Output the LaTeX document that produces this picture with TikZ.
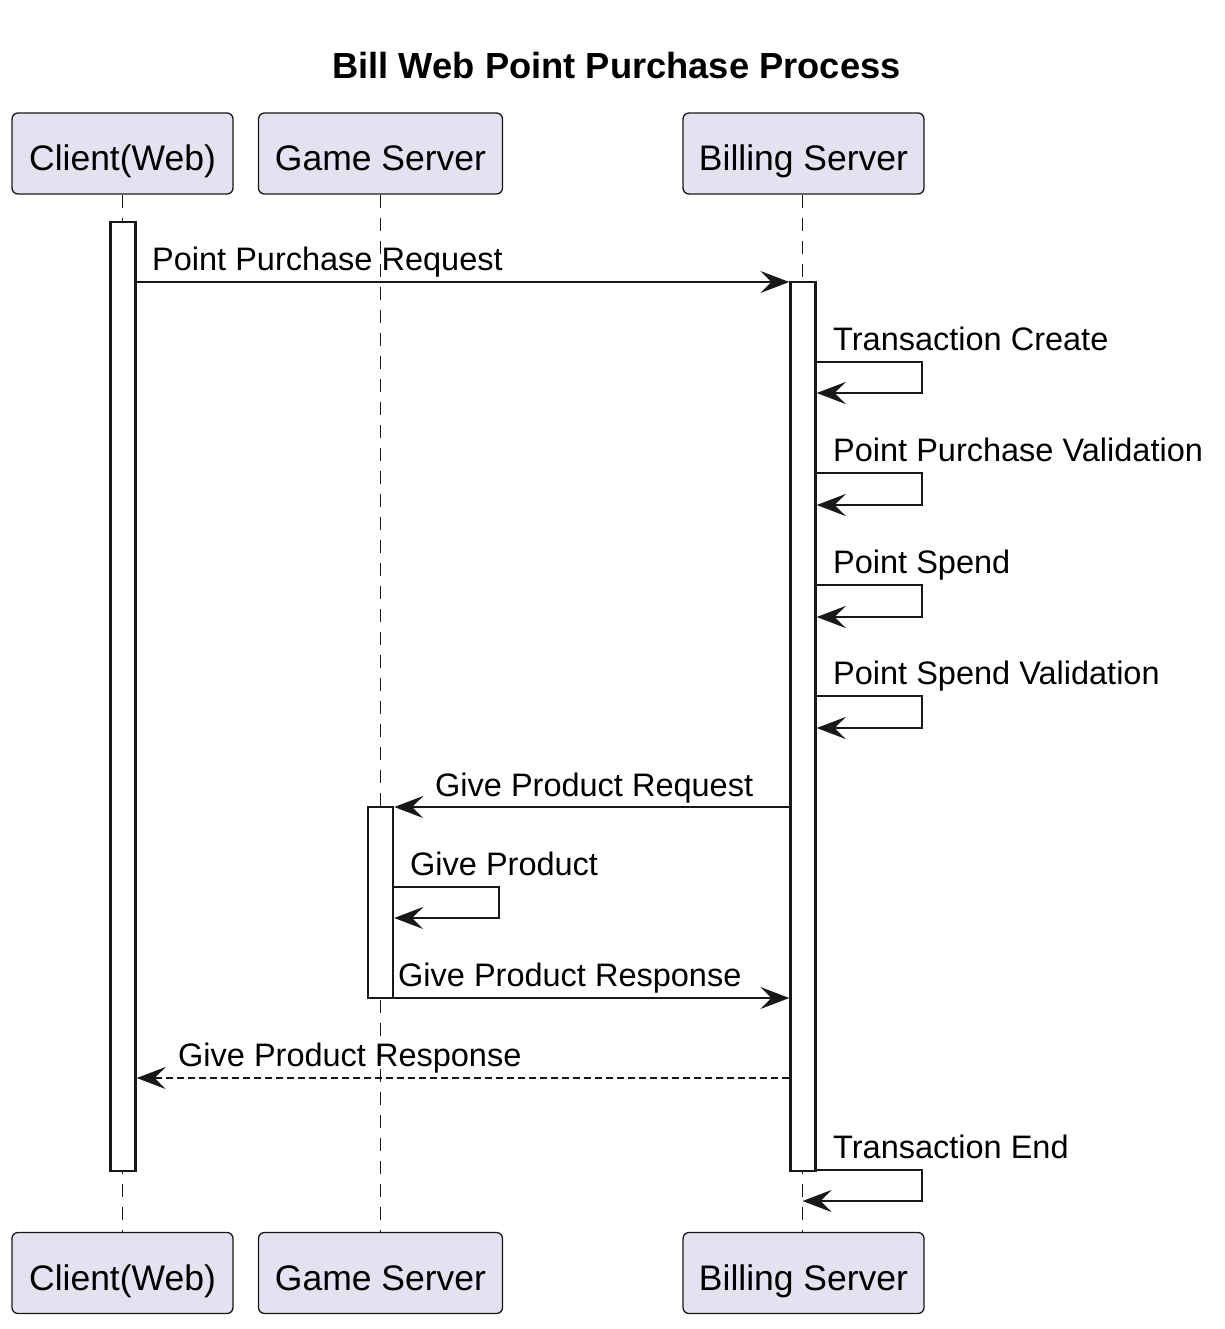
\documentclass[tikz,border=0pt]{standalone}
\usepackage{fontspec}
\setmainfont{Liberation Sans}
\usetikzlibrary{arrows.meta}
\definecolor{pfill}{HTML}{E2E2F0}
\definecolor{ink}{HTML}{181818}
\tikzset{
  part/.style={draw=ink, fill=pfill, line width=1.3pt, rounded corners=6pt,
    minimum height=81pt, inner sep=0pt, text=black,
    font=\fontsize{35.5}{42}\selectfont, text height=40pt, text depth=6pt},
  lifeline/.style={draw=ink, line width=1.3pt, dash pattern=on 13pt off 10pt},
  actbox/.style={draw=ink, fill=white, line width=2.4pt, minimum width=25pt, inner sep=0pt},
  msg/.style={draw=ink, line width=2.3pt, -{Stealth[length=29pt,width=22pt,inset=11pt]}},
  retmsg/.style={msg, dash pattern=on 7pt off 4pt},
  lbl/.style={anchor=base west, inner sep=0pt, text=black, font=\fontsize{32.5}{39}\selectfont},
  ttl/.style={anchor=base, inner sep=0pt, text=black, font=\fontsize{36.3}{44}\selectfont\bfseries}
}
\begin{document}
\begin{tikzpicture}[x=1pt,y=-1pt]
\useasboundingbox (0,0) rectangle (1224,1329);
\node[ttl] (title) at (616.5,79) {Bill Web Point Purchase Process};
% participants
\node[part, minimum width=221pt] (pC) at (122.5,153.5) {Client(Web)};
\node[part, minimum width=244pt] (pG) at (380.5,153.5) {Game Server};
\node[part, minimum width=241pt] (pB) at (803.5,153.5) {Billing Server};
\node[part, minimum width=221pt] (pCb) at (122.5,1273) {Client(Web)};
\node[part, minimum width=244pt] (pGb) at (380.5,1273) {Game Server};
\node[part, minimum width=241pt] (pBb) at (803.5,1273) {Billing Server};
% lifelines
\draw[lifeline] (pC.south) -- (pCb.north);
\draw[lifeline] (pG.south) -- (pGb.north);
\draw[lifeline] ([xshift=-1pt]pB.south) -- ([xshift=-1pt]pBb.north);
% activations
\node[actbox, minimum height=949pt] (actC) at (123,696.5) {};
\node[actbox, minimum height=889pt] (actB) at (803,726.5) {};
\node[actbox, minimum height=191pt] (actG) at (380.5,902.5) {};
% message rows
\coordinate (y1) at (0,282);
\coordinate (y2) at (0,362);
\coordinate (y3) at (0,473);
\coordinate (y4) at (0,585);
\coordinate (y5) at (0,696);
\coordinate (y6) at (0,807);
\coordinate (y7) at (0,887);
\coordinate (y8) at (0,998);
\coordinate (y9) at (0,1078);
\coordinate (y10) at (0,1170);
% messages
\draw[msg] (actC.east |- y1) -- (actB.west |- y1);
\node[lbl] (l1) at (152,271) {Point Purchase Request};
\draw[msg] (actB.east |- y2) -- ++(105,0) -- ++(0,31) -- (actB.east |- 0,393);
\node[lbl] (l2) at (833,350) {Transaction Create};
\draw[msg] (actB.east |- y3) -- ++(105,0) -- ++(0,32) -- (actB.east |- 0,505);
\node[lbl] (l3) at (833,461) {Point Purchase Validation};
\draw[msg] (actB.east |- y4) -- ++(105,0) -- ++(0,32) -- (actB.east |- 0,617);
\node[lbl] (l4) at (833,573) {Point Spend};
\draw[msg] (actB.east |- y5) -- ++(105,0) -- ++(0,32) -- (actB.east |- 0,728);
\node[lbl] (l5) at (833,684) {Point Spend Validation};
\draw[msg] (actB.west |- y6) -- (actG.east |- y6);
\node[lbl] (l6) at (435,796) {Give Product Request};
\draw[msg] (actG.east |- y7) -- ++(105,0) -- ++(0,31) -- (actG.east |- 0,918);
\node[lbl] (l7) at (410,875) {Give Product};
\draw[msg] (actG.east |- y8) -- (actB.west |- y8);
\node[lbl] (l8) at (398,986) {Give Product Response};
\draw[retmsg] (actB.west |- y9) -- (actC.east |- y9);
\node[lbl] (l9) at (178,1066) {Give Product Response};
\draw[msg] (actB.east |- y10) -- ++(105,0) -- ++(0,31) -- ([xshift=-1pt]pB.south |- 0,1201);
\node[lbl] (l10) at (833,1158) {Transaction End};
\end{tikzpicture}
\end{document}
